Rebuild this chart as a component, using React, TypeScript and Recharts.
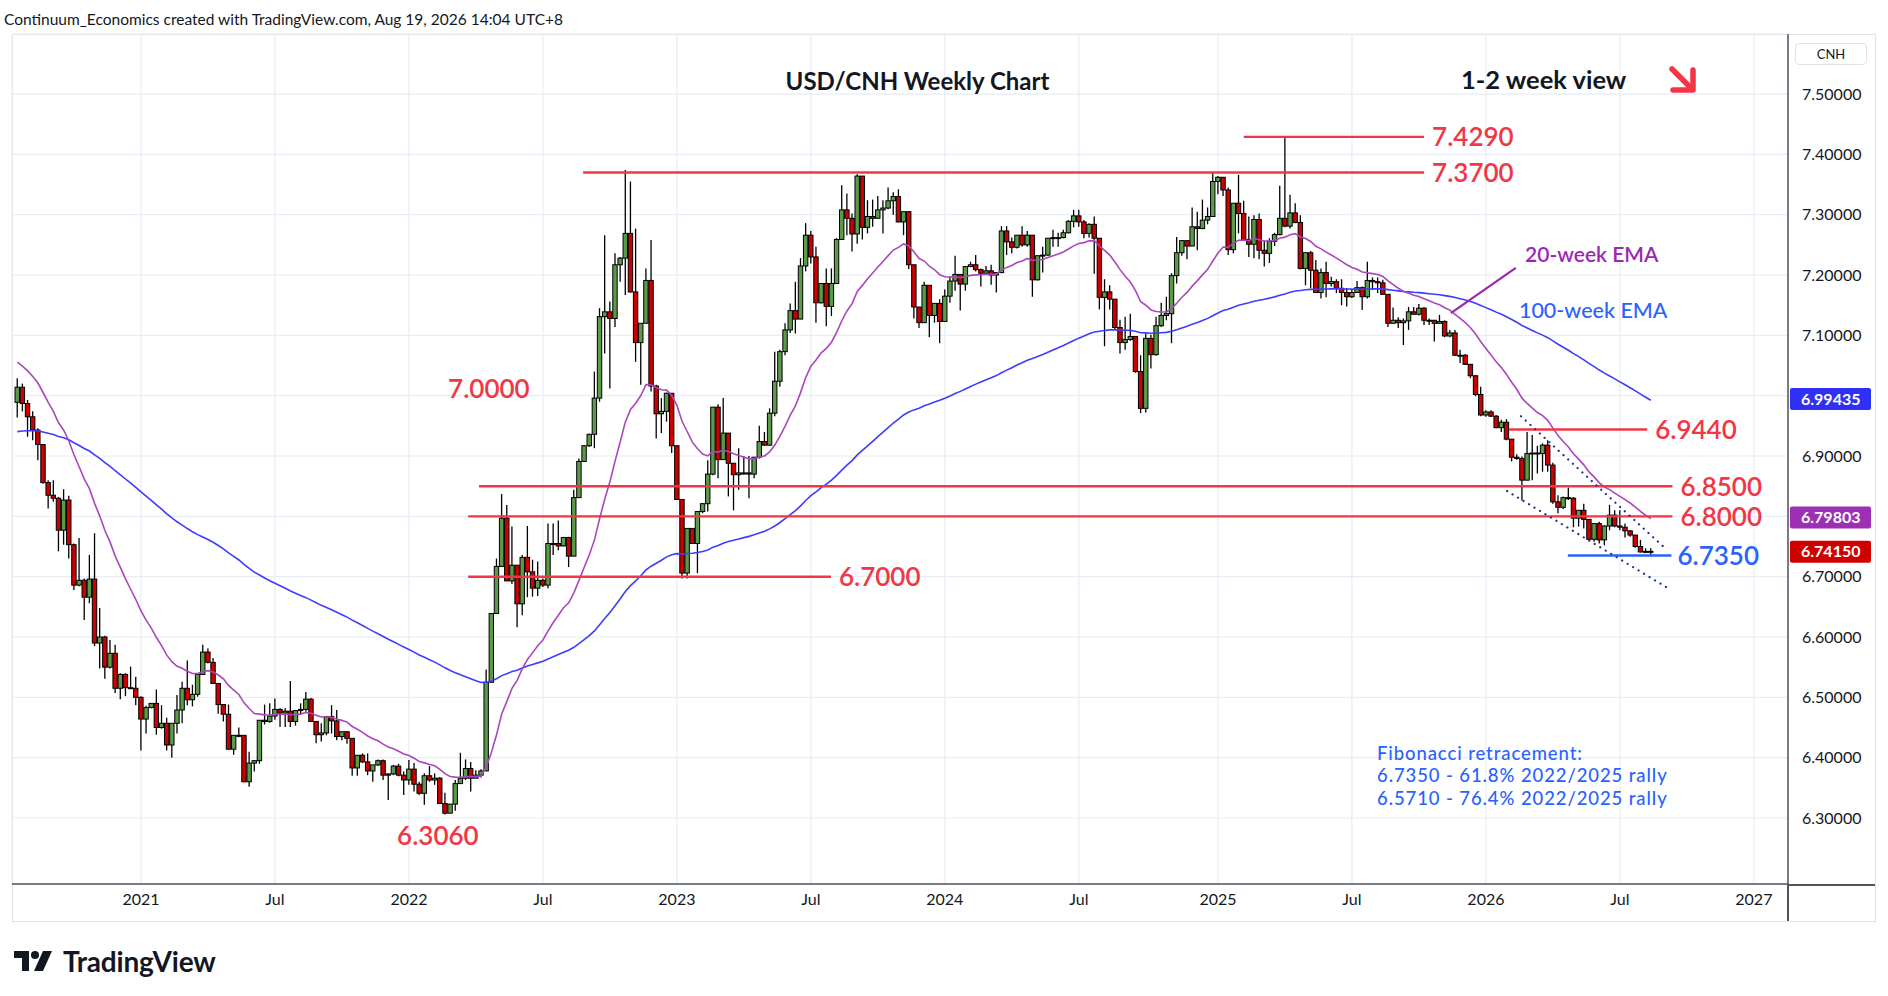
import React from 'react';
import {
  ComposedChart,
  Bar,
  Line,
  XAxis,
  YAxis,
  CartesianGrid,
  ReferenceLine,
  ReferenceDot,
} from 'recharts';

// weeks are counted from the first weekly bar of 2021 (4 Jan 2021)
const firstWeek = -24;
const firstOpen = 6.989;

const closes = [
  7.014, 6.987, 6.965, 6.943, 6.919, 6.856, 6.835, 6.830, 6.777, 6.827,
  6.753, 6.686, 6.694, 6.666, 6.696, 6.590, 6.600, 6.550, 6.573, 6.515,
  6.538, 6.516, 6.515, 6.500, 6.464, 6.483, 6.490, 6.450, 6.457, 6.421,
  6.457, 6.479, 6.515, 6.496, 6.505, 6.538, 6.575, 6.558, 6.523, 6.488,
  6.472, 6.414, 6.437, 6.437, 6.360, 6.391, 6.395, 6.462, 6.460, 6.469,
  6.480, 6.474, 6.477, 6.460, 6.478, 6.480, 6.497, 6.460, 6.438, 6.441,
  6.468, 6.461, 6.435, 6.443, 6.432, 6.383, 6.404, 6.393, 6.378, 6.388,
  6.395, 6.371, 6.373, 6.386, 6.371, 6.363, 6.381, 6.356, 6.341, 6.370,
  6.363, 6.366, 6.324, 6.308, 6.323, 6.357, 6.366, 6.382, 6.366, 6.371,
  6.378, 6.525, 6.639, 6.717, 6.797, 6.693, 6.719, 6.655, 6.732, 6.708,
  6.681, 6.694, 6.686, 6.755, 6.755, 6.751, 6.765, 6.734, 6.831, 6.891,
  6.917, 6.936, 6.996, 7.131, 7.139, 7.128, 7.217, 7.228, 7.269, 7.172,
  7.088, 7.120, 7.191, 7.016, 6.970, 6.974, 7.004, 6.917, 6.828, 6.706,
  6.780, 6.755, 6.808, 6.821, 6.870, 6.981, 6.894, 6.938, 6.888, 6.869,
  6.872, 6.872, 6.870, 6.898, 6.924, 6.918, 6.971, 7.024, 7.073, 7.109,
  7.141, 7.127, 7.215, 7.266, 7.230, 7.154, 7.186, 7.148, 7.186, 7.259,
  7.308, 7.294, 7.268, 7.364, 7.279, 7.297, 7.294, 7.308, 7.311, 7.323,
  7.330, 7.288, 7.305, 7.217, 7.147, 7.121, 7.183, 7.133, 7.153, 7.123,
  7.165, 7.190, 7.201, 7.185, 7.214, 7.217, 7.209, 7.203, 7.207, 7.200,
  7.204, 7.273, 7.255, 7.246, 7.266, 7.250, 7.266, 7.192, 7.232, 7.233,
  7.261, 7.262, 7.262, 7.270, 7.289, 7.298, 7.288, 7.269, 7.284, 7.261,
  7.163, 7.172, 7.160, 7.113, 7.088, 7.093, 7.098, 7.040, 6.979, 7.095,
  7.068, 7.116, 7.133, 7.136, 7.199, 7.237, 7.257, 7.248, 7.280, 7.277,
  7.291, 7.297, 7.355, 7.362, 7.341, 7.242, 7.319, 7.302, 7.259, 7.251,
  7.292, 7.241, 7.236, 7.256, 7.267, 7.294, 7.281, 7.303, 7.287, 7.211,
  7.237, 7.208, 7.171, 7.204, 7.186, 7.189, 7.178, 7.171, 7.164, 7.171,
  7.179, 7.164, 7.191, 7.189, 7.187, 7.168, 7.120, 7.125, 7.121, 7.124,
  7.139, 7.135, 7.145, 7.125, 7.125, 7.120, 7.123, 7.099, 7.104, 7.067,
  7.067, 7.052, 7.033, 7.002, 6.968, 6.973, 6.966, 6.947, 6.956, 6.928,
  6.898, 6.896, 6.860, 6.904, 6.905, 6.904, 6.918, 6.885, 6.824, 6.815,
  6.831, 6.830, 6.797, 6.810, 6.795, 6.762, 6.788, 6.761, 6.784, 6.802,
  6.784, 6.782, 6.776, 6.769, 6.750, 6.741, 6.742, 6.7415,
];

const highs = [
  7.029, 7.020, 6.993, 6.974, 6.946, 6.920, 6.860, 6.860, 6.832, 6.845,
  6.834, 6.755, 6.764, 6.697, 6.736, 6.772, 6.648, 6.602, 6.595, 6.587,
  6.540, 6.540, 6.551, 6.534, 6.502, 6.486, 6.490, 6.513, 6.487, 6.466,
  6.457, 6.504, 6.526, 6.561, 6.521, 6.540, 6.587, 6.581, 6.565, 6.523,
  6.488, 6.488, 6.437, 6.450, 6.437, 6.410, 6.395, 6.462, 6.488, 6.490,
  6.498, 6.482, 6.482, 6.527, 6.478, 6.490, 6.509, 6.499, 6.460, 6.457,
  6.469, 6.487, 6.479, 6.443, 6.443, 6.432, 6.404, 6.407, 6.407, 6.388,
  6.397, 6.397, 6.374, 6.388, 6.390, 6.377, 6.396, 6.391, 6.360, 6.374,
  6.386, 6.374, 6.368, 6.342, 6.323, 6.363, 6.408, 6.397, 6.393, 6.379,
  6.381, 6.546, 6.639, 6.730, 6.837, 6.819, 6.783, 6.719, 6.736, 6.784,
  6.728, 6.725, 6.697, 6.788, 6.788, 6.793, 6.766, 6.766, 6.844, 6.896,
  6.918, 6.937, 7.040, 7.145, 7.266, 7.156, 7.236, 7.230, 7.374, 7.355,
  7.277, 7.120, 7.211, 7.258, 7.018, 6.996, 7.005, 7.004, 6.917, 6.828,
  6.780, 6.780, 6.808, 6.822, 6.893, 6.981, 6.986, 6.996, 6.938, 6.888,
  6.913, 6.900, 6.900, 6.898, 6.950, 6.940, 6.979, 7.073, 7.076, 7.120,
  7.153, 7.189, 7.228, 7.286, 7.273, 7.247, 7.186, 7.211, 7.211, 7.261,
  7.349, 7.335, 7.302, 7.367, 7.364, 7.324, 7.325, 7.331, 7.324, 7.345,
  7.337, 7.342, 7.305, 7.305, 7.217, 7.147, 7.189, 7.183, 7.153, 7.160,
  7.176, 7.197, 7.232, 7.201, 7.215, 7.222, 7.233, 7.211, 7.215, 7.217,
  7.204, 7.281, 7.281, 7.262, 7.266, 7.281, 7.273, 7.266, 7.232, 7.247,
  7.261, 7.275, 7.270, 7.275, 7.291, 7.308, 7.308, 7.291, 7.286, 7.297,
  7.261, 7.193, 7.183, 7.160, 7.126, 7.131, 7.136, 7.098, 7.067, 7.103,
  7.101, 7.131, 7.154, 7.164, 7.203, 7.263, 7.258, 7.257, 7.312, 7.305,
  7.325, 7.312, 7.369, 7.364, 7.362, 7.345, 7.319, 7.366, 7.323, 7.297,
  7.299, 7.302, 7.257, 7.261, 7.270, 7.348, 7.429, 7.333, 7.319, 7.299,
  7.237, 7.240, 7.225, 7.211, 7.222, 7.197, 7.193, 7.193, 7.178, 7.175,
  7.190, 7.181, 7.222, 7.196, 7.196, 7.192, 7.168, 7.146, 7.130, 7.128,
  7.147, 7.147, 7.152, 7.147, 7.128, 7.125, 7.134, 7.125, 7.109, 7.109,
  7.076, 7.069, 7.052, 7.034, 7.015, 6.976, 6.976, 6.968, 6.960, 6.961,
  6.928, 6.903, 6.899, 6.940, 6.935, 6.917, 6.921, 6.926, 6.889, 6.835,
  6.833, 6.848, 6.832, 6.810, 6.821, 6.791, 6.789, 6.791, 6.785, 6.819,
  6.810, 6.810, 6.788, 6.777, 6.769, 6.761, 6.747, 6.747,
];

const lows = [
  6.964, 6.974, 6.932, 6.926, 6.893, 6.854, 6.813, 6.824, 6.742, 6.753,
  6.730, 6.678, 6.684, 6.628, 6.656, 6.585, 6.548, 6.531, 6.548, 6.507,
  6.497, 6.502, 6.514, 6.487, 6.412, 6.440, 6.482, 6.438, 6.448, 6.412,
  6.400, 6.440, 6.457, 6.487, 6.485, 6.501, 6.537, 6.556, 6.522, 6.473,
  6.460, 6.414, 6.405, 6.434, 6.360, 6.352, 6.377, 6.390, 6.455, 6.458,
  6.463, 6.451, 6.451, 6.451, 6.453, 6.471, 6.476, 6.460, 6.424, 6.427,
  6.437, 6.440, 6.429, 6.429, 6.423, 6.370, 6.370, 6.391, 6.371, 6.360,
  6.386, 6.363, 6.330, 6.371, 6.369, 6.338, 6.355, 6.344, 6.338, 6.322,
  6.360, 6.355, 6.324, 6.306, 6.308, 6.312, 6.357, 6.363, 6.344, 6.366,
  6.367, 6.378, 6.525, 6.638, 6.717, 6.693, 6.688, 6.616, 6.636, 6.666,
  6.667, 6.668, 6.683, 6.681, 6.736, 6.744, 6.750, 6.716, 6.734, 6.831,
  6.891, 6.915, 6.913, 6.990, 7.070, 7.012, 7.114, 7.189, 7.167, 7.171,
  7.056, 7.018, 7.120, 7.007, 6.929, 6.938, 6.957, 6.905, 6.827, 6.697,
  6.697, 6.755, 6.706, 6.805, 6.808, 6.868, 6.863, 6.894, 6.833, 6.810,
  6.844, 6.869, 6.830, 6.863, 6.896, 6.917, 6.917, 6.966, 7.015, 7.067,
  7.104, 7.103, 7.127, 7.206, 7.219, 7.121, 7.153, 7.115, 7.132, 7.185,
  7.258, 7.266, 7.239, 7.252, 7.259, 7.269, 7.280, 7.294, 7.269, 7.309,
  7.300, 7.287, 7.266, 7.210, 7.128, 7.112, 7.121, 7.097, 7.121, 7.087,
  7.123, 7.154, 7.174, 7.141, 7.174, 7.213, 7.206, 7.181, 7.200, 7.184,
  7.171, 7.203, 7.233, 7.236, 7.244, 7.247, 7.247, 7.164, 7.191, 7.204,
  7.232, 7.247, 7.247, 7.261, 7.269, 7.279, 7.280, 7.261, 7.262, 7.202,
  7.143, 7.082, 7.143, 7.110, 7.070, 7.076, 7.091, 7.038, 6.971, 6.972,
  7.045, 7.066, 7.114, 7.125, 7.087, 7.186, 7.232, 7.226, 7.248, 7.241,
  7.276, 7.284, 7.297, 7.334, 7.331, 7.233, 7.236, 7.269, 7.257, 7.230,
  7.228, 7.226, 7.214, 7.220, 7.248, 7.266, 7.279, 7.277, 7.286, 7.209,
  7.183, 7.178, 7.170, 7.161, 7.163, 7.181, 7.170, 7.150, 7.148, 7.162,
  7.170, 7.142, 7.161, 7.175, 7.170, 7.168, 7.114, 7.120, 7.112, 7.084,
  7.109, 7.134, 7.133, 7.117, 7.117, 7.090, 7.119, 7.097, 7.097, 7.066,
  7.054, 7.051, 7.029, 6.999, 6.966, 6.965, 6.965, 6.946, 6.940, 6.926,
  6.891, 6.894, 6.826, 6.860, 6.860, 6.871, 6.874, 6.874, 6.821, 6.805,
  6.812, 6.827, 6.782, 6.783, 6.780, 6.761, 6.758, 6.755, 6.752, 6.777,
  6.782, 6.777, 6.765, 6.766, 6.748, 6.740, 6.739, 6.736,
];

// EMA values just before the first visible bar
const ema20Seed = 7.06;
const ema100Seed = 6.939;

const tickWeeks = [0, 26, 52, 78, 104, 130, 156, 182, 209, 235, 261, 287, 313];
const tickLabels = ['2021', 'Jul', '2022', 'Jul', '2023', 'Jul', '2024', 'Jul', '2025', 'Jul', '2026', 'Jul', '2027'];
const priceTicks = [6.3, 6.4, 6.5, 6.6, 6.7, 6.8, 6.9, 7.0, 7.1, 7.2, 7.3, 7.4, 7.5];
// scale labels hidden behind the last-value tags
const hiddenPriceLabels = [6.8, 7.0];

// horizontal levels: price, first week, last week, label
const redLevels = [
  { price: 7.429, from: 214, to: 249, text: '7.4290' },
  { price: 7.37, from: 85.8, to: 249, text: '7.3700' },
  { price: 6.944, from: 265.5, to: 292.3, text: '6.9440' },
  { price: 6.85, from: 65.6, to: 297.2, text: '6.8500' },
  { price: 6.8, from: 63.5, to: 297.2, text: '6.8000' },
  { price: 6.7, from: 63.5, to: 133.9, text: '6.7000' },
];
const blueLevel = { price: 6.735, from: 276.9, to: 297.0, text: '6.7350' };

const channelUpper = [{ x: 267.8, y: 6.966 }, { x: 295.8, y: 6.747 }];
const channelLower = [{ x: 265.1, y: 6.842 }, { x: 296.9, y: 6.678 }];

const fibLines = [
  'Fibonacci retracement:',
  '6.7350 - 61.8% 2022/2025 rally',
  '6.5710 - 76.4% 2022/2025 rally',
];

const lastTags = [
  { value: 6.99435, color: '#2f2ff5' },
  { value: 6.79803, color: '#9c2fb4' },
  { value: 6.7415, color: '#d10000' },
];

const RED = '#f23645';
const BLUE = '#2962ff';
const UP = '#5b9a48';
const DOWN = '#cc0000';
const FONT = 'Lato, "Noto Sans", sans-serif';

type Row = {
  w: number;
  o: number;
  h: number;
  l: number;
  c: number;
  range: [number, number];
  ema20: number;
  ema100: number;
};

const rows: Row[] = [];
{
  let e20 = ema20Seed;
  let e100 = ema100Seed;
  closes.forEach((c, i) => {
    e20 += ((c - e20) * 2) / 21;
    e100 += ((c - e100) * 2) / 101;
    rows.push({
      w: firstWeek + i,
      o: i === 0 ? firstOpen : closes[i - 1],
      h: highs[i],
      l: lows[i],
      c,
      range: [lows[i], highs[i]],
      ema20: e20,
      ema100: e100,
    });
  });
}

function Candle(props: any) {
  const { x, y, width, height, payload } = props;
  if (!payload) return null;
  const { o, c, h, l } = payload as Row;
  const top = Math.min(y, y + height);
  const bottom = Math.max(y, y + height);
  const span = h - l || 1;
  const toY = (v: number) => top + ((h - v) / span) * (bottom - top);
  const cx = x + width / 2;
  const bodyTop = toY(Math.max(o, c));
  const bodyBottom = toY(Math.min(o, c));
  return (
    <g>
      <line x1={cx} x2={cx} y1={top} y2={bottom} stroke='#000' strokeWidth={1.3} />
      <rect
        x={cx - 2.2}
        y={bodyTop}
        width={4.4}
        height={Math.max(bodyBottom - bodyTop, 1)}
        fill={c >= o ? UP : DOWN}
        stroke='#000'
        strokeWidth={1}
      />
    </g>
  );
}

const endLabel = (text: string, color: string, dx = 8) => (p: any) => {
  const vb = p.viewBox;
  return (
    <text
      x={vb.x + vb.width + dx}
      y={vb.y}
      dy='0.36em'
      fill={color}
      fontSize={26}
      fontWeight={600}
      fontFamily={FONT}
    >
      {text}
    </text>
  );
};

const freeLabel = (text: string, color: string, size = 26, weight = 600) => (p: any) => {
  const vb = p.viewBox;
  return (
    <text x={vb.x} y={vb.y} dy='0.36em' fill={color} fontSize={size} fontWeight={weight} fontFamily={FONT}>
      {text}
    </text>
  );
};

const tagLabel = (text: string, color: string) => (p: any) => {
  const vb = p.viewBox;
  const x = vb.x + vb.width + 2;
  return (
    <g>
      <rect x={x} y={vb.y - 11} width={81} height={22} rx={2} fill={color} />
      <text x={x + 11} y={vb.y} dy='0.36em' fill='#fff' fontSize={16} fontWeight={700} fontFamily={FONT}>
        {text}
      </text>
    </g>
  );
};

export default function App() {
  return (
    <div style={{ position: 'relative', width: 1888, height: 996, background: '#fff', fontFamily: FONT }}>
      <style>{'body{margin:0;}'}</style>

      <div
        style={{
          position: 'absolute',
          left: 4,
          top: 10,
          fontSize: 15.5,
          color: '#131722',
          whiteSpace: 'nowrap',
        }}
      >
        Continuum_Economics created with TradingView.com, Aug 19, 2026 14:04 UTC+8
      </div>

      <div
        style={{
          position: 'absolute',
          left: 12,
          top: 34,
          width: 1862,
          height: 886,
          border: '1px solid #e0e3eb',
        }}
      />

      <div style={{ position: 'absolute', left: 0, top: 0 }}>
        <ComposedChart width={1888} height={996} data={rows} margin={{ top: 34, right: 13, bottom: 75, left: 12 }}>
          <CartesianGrid stroke='#e6edf4' strokeWidth={1.2} />
          <XAxis
            dataKey='w'
            type='number'
            domain={[-25.03, 319.62]}
            allowDataOverflow
            ticks={tickWeeks}
            interval={0}
            tickFormatter={(v: number) => tickLabels[tickWeeks.indexOf(v)] ?? ''}
            tick={{ fill: '#131722', fontSize: 16, fontFamily: FONT }}
            tickSize={0}
            tickMargin={10}
            height={37}
            axisLine={{ stroke: '#50535e', strokeWidth: 1.5 }}
            tickLine={false}
          />
          <YAxis
            orientation='right'
            type='number'
            domain={[6.1906, 7.5995]}
            allowDataOverflow
            ticks={priceTicks}
            interval={0}
            tickFormatter={(v: number) =>
              hiddenPriceLabels.some((h) => Math.abs(h - v) < 1e-6) ? '' : v.toFixed(5)
            }
            tick={{ fill: '#131722', fontSize: 16, fontFamily: FONT }}
            tickSize={0}
            tickMargin={14}
            width={87}
            axisLine={{ stroke: '#50535e', strokeWidth: 1.5 }}
            tickLine={false}
          />

          <Line
            dataKey='ema100'
            stroke='#3d3dff'
            strokeWidth={1.6}
            dot={false}
            activeDot={false}
            isAnimationActive={false}
          />
          <Line
            dataKey='ema20'
            stroke='#ab47bc'
            strokeWidth={1.6}
            dot={false}
            activeDot={false}
            isAnimationActive={false}
          />

          {redLevels.map((lv) => (
            <ReferenceLine
              key={lv.text}
              segment={[
                { x: lv.from, y: lv.price },
                { x: lv.to, y: lv.price },
              ]}
              stroke={RED}
              strokeWidth={2.4}
              label={endLabel(lv.text, RED)}
            />
          ))}
          <ReferenceLine
            segment={[
              { x: blueLevel.from, y: blueLevel.price },
              { x: blueLevel.to, y: blueLevel.price },
            ]}
            stroke={BLUE}
            strokeWidth={2.4}
            label={endLabel(blueLevel.text, BLUE, 6)}
          />

          <ReferenceLine
            segment={channelUpper}
            stroke='#22348f'
            strokeWidth={2.2}
            strokeDasharray='0.1 6.3'
            strokeLinecap='round'
          />
          <ReferenceLine
            segment={channelLower}
            stroke='#22348f'
            strokeWidth={2.2}
            strokeDasharray='0.1 6.3'
            strokeLinecap='round'
          />

          <ReferenceLine
            segment={[
              { x: 254.2, y: 7.137 },
              { x: 266.8, y: 7.212 },
            ]}
            stroke='#9c27b0'
            strokeWidth={2.2}
          />
          <ReferenceDot x={268.6} y={7.234} r={0} fill='none' stroke='none' label={freeLabel('20-week EMA', '#9c27b0', 21)} />
          <ReferenceDot x={267.4} y={7.142} r={0} fill='none' stroke='none' label={freeLabel('100-week EMA', BLUE, 21.5, 500)} />
          <ReferenceDot x={59.6} y={7.011} r={0} fill='none' stroke='none' label={freeLabel('7.0000', RED)} />
          <ReferenceDot x={49.7} y={6.271} r={0} fill='none' stroke='none' label={freeLabel('6.3060', RED)} />

          <Bar dataKey='range' barSize={5} shape={Candle} isAnimationActive={false} />

          {lastTags.map((t) => (
            <ReferenceLine key={t.value} y={t.value} stroke='none' label={tagLabel(t.value.toFixed(5), t.color)} />
          ))}
        </ComposedChart>
      </div>

      {/* extend the axis lines across the price scale / time scale corners */}
      <div style={{ position: 'absolute', left: 1788, top: 884, width: 87, height: 1.5, background: '#50535e' }} />
      <div style={{ position: 'absolute', left: 1787.3, top: 884, width: 1.5, height: 37, background: '#50535e' }} />

      <div
        style={{
          position: 'absolute',
          left: 1795,
          top: 43,
          width: 72,
          height: 22,
          border: '1px solid #e0e3eb',
          borderRadius: 4,
          fontSize: 13,
          color: '#131722',
          display: 'flex',
          alignItems: 'center',
          justifyContent: 'center',
          boxSizing: 'border-box',
        }}
      >
        CNH
      </div>

      <div
        style={{
          position: 'absolute',
          left: 784,
          top: 66,
          width: 267,
          textAlign: 'center',
          fontSize: 24,
          fontWeight: 700,
          color: '#131722',
          whiteSpace: 'nowrap',
        }}
      >
        USD/CNH Weekly Chart
      </div>
      <div
        style={{
          position: 'absolute',
          left: 1461,
          top: 64,
          fontSize: 25.5,
          fontWeight: 700,
          color: '#131722',
          whiteSpace: 'nowrap',
        }}
      >
        1-2 week view
      </div>
      <svg style={{ position: 'absolute', left: 1664, top: 62 }} width={36} height={36}>
        <g stroke={RED} strokeWidth={5.5} strokeLinecap='round' strokeLinejoin='round' fill='none'>
          <line x1={8} y1={7} x2={27} y2={26} />
          <polyline points='29,8 29,28 9,28' />
        </g>
      </svg>

      <div
        style={{
          position: 'absolute',
          left: 1377,
          top: 742,
          fontSize: 18.5,
          fontWeight: 500,
          lineHeight: '22.3px',
          letterSpacing: 0.9,
          color: BLUE,
          whiteSpace: 'nowrap',
        }}
      >
        {fibLines.map((t) => (
          <div key={t} style={{ height: 22.3 }}>
            {t}
          </div>
        ))}
      </div>

      <div style={{ position: 'absolute', left: 14, top: 944, display: 'flex', alignItems: 'center', gap: 9 }}>
        <svg width={40} height={26} viewBox='0 0 40 26'>
          <path d='M0 3h15v20h-7V10H0z' fill='#131722' />
          <circle cx={21} cy={7} r={4} fill='#131722' />
          <path d='M29 3h9l-9 20h-9z' fill='#131722' />
        </svg>
        <span style={{ fontSize: 28, fontWeight: 700, color: '#131722', letterSpacing: -0.2 }}>TradingView</span>
      </div>
    </div>
  );
}
